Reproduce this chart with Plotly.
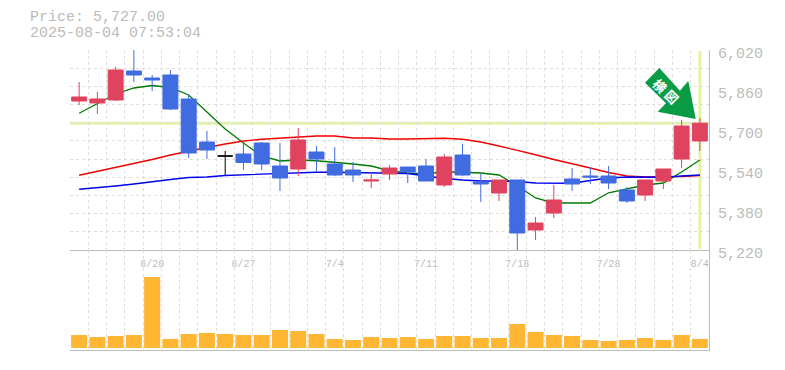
import plotly.graph_objects as go

dates = ["6/20", "6/27", "7/4", "7/11", "7/18", "7/28", "8/4"]
date_idx = [4, 9, 14, 19, 24, 29, 34]
idx = list(range(35))
opens = [5816,5808,5820,5936,5908,5920,5824,5652,5596,5604,5648,5556,5544,5612,5564,5540,5496,5524,5552,5556,5480,5600,5492,5448,5500,5300,5368,5504,5516,5516,5460,5440,5496,5584,5656]
highs = [5892,5852,5952,6020,5920,5940,5840,5696,5616,5656,5652,5648,5708,5636,5632,5572,5532,5560,5552,5584,5604,5644,5528,5500,5500,5352,5480,5548,5552,5556,5472,5500,5544,5740,5748]
lows = [5800,5764,5816,5892,5856,5780,5588,5584,5520,5540,5540,5456,5516,5532,5516,5492,5468,5500,5488,5496,5472,5516,5412,5416,5220,5260,5348,5456,5484,5464,5408,5416,5464,5548,5616]
closes = [5832,5824,5940,5920,5900,5784,5608,5620,5596,5570,5564,5508,5660,5584,5520,5520,5500,5548,5532,5496,5592,5520,5484,5500,5288,5328,5420,5484,5512,5488,5416,5500,5544,5716,5727]
ma_short = [5767,5806,5844,5868,5878,5870,5840,5772,5704,5648,5596,5576,5580,5577,5572,5564,5556,5537,5528,5524,5533,5532,5528,5520,5477,5428,5408,5408,5408,5449,5464,5480,5488,5532,5580]
ma_mid = [5519,5534,5550,5564,5582,5600,5616,5630,5644,5656,5663,5667,5671,5676,5676,5668,5668,5664,5664,5664,5667,5663,5652,5636,5620,5601,5582,5566,5548,5530,5516,5512,5512,5514,5518]
ma_long = [5463,5468,5476,5484,5494,5502,5510,5512,5518,5521,5524,5528,5530,5531,5531,5529,5528,5527,5526,5516,5506,5500,5496,5496,5494,5488,5487,5487,5498,5508,5512,5512,5511,5516,5520]
volumes = [13,11,12,13,71,9,14,15,14,13,13,18,17,14,9,8,11,10,11,9,12,12,10,10,24,16,13,12,8,7,8,10,8,13,9]
price_ticks = [5220,5380,5540,5700,5860,6020]
last_price = 5727
stamp = "2025-08-04 07:53:04"

UP, DOWN, GREY, GRID, HILITE = "#E0435F", "#416BE0", "#BBBBBB", "#DDDDDD", "#E3F5A5"
W, H, L, R, T, B = 785, 370, 70, 76, 50, 20
MONO = "Liberation Mono, DejaVu Sans Mono, monospace"

def px(x, y):
    return (x - L) / (W - L - R), 1 - (y - T) / (H - T - B)

fig = go.Figure()
fig.add_bar(x=idx, y=volumes, xaxis="x2", yaxis="y2", marker=dict(color="#FFB733", line_width=0), width=0.88)
for vals, col in [(ma_short, "#007A00"), (ma_mid, "#F00000"), (ma_long, "#0000F0")]:
    fig.add_scatter(x=idx, y=vals, mode="lines", line=dict(color=col, width=1.3), xaxis="x", yaxis="y")

doji = [i for i in idx if opens[i] == closes[i]]
rest = [i for i in idx if i not in doji]
sub = lambda a, s: [a[i] for i in s]
fig.add_candlestick(x=rest, open=sub(opens, rest), high=sub(highs, rest), low=sub(lows, rest), close=sub(closes, rest),
    xaxis="x", yaxis="y3", whiskerwidth=0,
    increasing=dict(line=dict(color=UP, width=1), fillcolor=UP),
    decreasing=dict(line=dict(color=DOWN, width=1), fillcolor=DOWN))
fig.add_candlestick(x=doji, open=sub(opens, doji), high=sub(highs, doji), low=sub(lows, doji), close=sub(closes, doji),
    xaxis="x", yaxis="y3", whiskerwidth=0,
    increasing=dict(line=dict(color="#000000", width=1), fillcolor="#000000"),
    decreasing=dict(line=dict(color="#000000", width=1), fillcolor="#000000"))

DASH = "3px,3px"
minor_x = dict(tick0=-0.5, dtick=1, showgrid=True, gridcolor=GRID, griddash=DASH, gridwidth=1, ticks="")
xr = [-0.5, 34.5]
arrow = [(659.3,68),(645,82.7),(666,103.3),(657.7,111.7),(695.7,119),(688.3,81),(680,90.7)]
path = "M" + " L".join("%.4f,%.4f" % px(*p) for p in arrow) + " Z"
gx1, gy1 = px(660, 85)
gx2, gy2 = px(672, 96)

fig.update_layout(
    width=W, height=H, autosize=False, margin=dict(l=L, r=R, t=T, b=B, pad=0),
    paper_bgcolor="white", plot_bgcolor="white", showlegend=False, boxgap=0.18, boxgroupgap=0,
    bargap=0.12, hovermode=False,
    xaxis=dict(domain=[0,1], range=xr, anchor="y", tickmode="array", tickvals=date_idx, ticktext=dates,
               tickfont=dict(family=MONO, size=10, color=GREY), ticks="", showgrid=False, zeroline=False, automargin=False,
               rangeslider=dict(visible=False), showline=True, linecolor=GREY, linewidth=1, minor=minor_x,
               ticklabelstandoff=4),
    xaxis2=dict(domain=[0,1], range=xr, anchor="y2", showticklabels=False, ticks="", showgrid=False, zeroline=False,
                automargin=False, showline=True, linecolor=GREY, linewidth=1, minor=minor_x),
    yaxis=dict(domain=[1/3,1], range=[5220,6020], anchor="x", side="right", tickvals=price_ticks, tickformat=",",
               tickfont=dict(family=MONO, size=15, color=GREY), ticks="", showgrid=False, zeroline=False, automargin=False,
               showline=True, linecolor=GREY, linewidth=1, ticklabelshift=3, ticklabelstandoff=5,
               minor=dict(tick0=5220, dtick=800/11, showgrid=True, gridcolor=GRID, griddash=DASH, gridwidth=1, ticks="")),
    yaxis2=dict(domain=[0,1/3], range=[-2,98], anchor="x2", side="right", showticklabels=False, ticks="", showgrid=False,
                zeroline=False, automargin=False, showline=True, linecolor=GREY, linewidth=1),
    yaxis3=dict(overlaying="y", range=[5220,6020], anchor="x", side="right", showticklabels=False, ticks="",
                showgrid=False, zeroline=False, automargin=False),
    shapes=[
        dict(type="line", xref="paper", yref="y", x0=0, x1=1, y0=last_price, y1=last_price, line=dict(color=HILITE, width=3), layer="below"),
        dict(type="line", xref="x", yref="y", x0=idx[-1], x1=idx[-1], y0=5224, y1=6016, line=dict(color=HILITE, width=3), layer="below"),
        dict(type="path", xref="paper", yref="paper", path=path, fillcolor="#0A9B45", line_width=0, layer="above"),
    ],
    annotations=[
        dict(xref="paper", yref="paper", x=px(29,11)[0], y=px(30,17.5)[1], xanchor="left", yanchor="middle", showarrow=False, borderpad=0,
             text="Price: {:,.2f}".format(last_price), font=dict(family=MONO, size=15, color=GREY)),
        dict(xref="paper", yref="paper", x=px(29,11)[0], y=px(30,33.5)[1], xanchor="left", yanchor="middle", showarrow=False, borderpad=0,
             text=stamp, font=dict(family=MONO, size=15, color=GREY)),
        dict(xref="paper", yref="paper", x=gx1, y=gy1, xanchor="center", yanchor="middle", showarrow=False, textangle=45, text="横",
             font=dict(family="Noto Sans CJK JP", size=13, color="white", weight="bold")),
        dict(xref="paper", yref="paper", x=gx2, y=gy2, xanchor="center", yanchor="middle", showarrow=False, textangle=45, text="図",
             font=dict(family="Noto Sans CJK JP", size=13, color="white", weight="bold")),
    ],
)
fig.write_html("out.html", config={"displayModeBar": False}, post_script="document.body.style.margin='0';document.documentElement.style.overflow='hidden';")
